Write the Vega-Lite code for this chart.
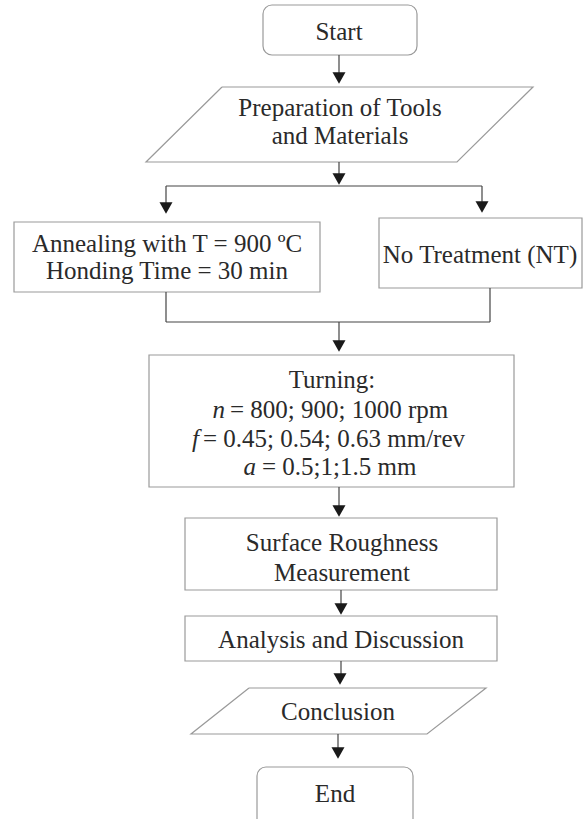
{
  "$schema": "https://vega.github.io/schema/vega-lite/v6.json",
  "width": 587,
  "height": 819,
  "autosize": {"type": "fit", "contains": "padding"},
  "padding": 0,
  "background": "white",
  "config": {"view": {"stroke": null}},
  "datasets": {
    "boxes": [
      {"name": "Annealing", "x": 14, "x2": 320, "y": 222, "y2": 292},
      {"name": "NT", "x": 379, "x2": 582, "y": 218, "y2": 288},
      {"name": "Turning", "x": 149, "x2": 514, "y": 355, "y2": 487},
      {"name": "Surface", "x": 185, "x2": 497, "y": 518, "y2": 590},
      {"name": "Analysis", "x": 185, "x2": 497, "y": 616, "y2": 661}
    ],
    "rounded": [
      {"name": "Start", "x": 263, "x2": 417, "y": 5, "y2": 55},
      {"name": "End", "x": 257, "x2": 413, "y": 767, "y2": 830}
    ],
    "polys": [
      {"shape": "Prep", "i": 0, "x": 222, "y": 87},
      {"shape": "Prep", "i": 1, "x": 533, "y": 87},
      {"shape": "Prep", "i": 2, "x": 457, "y": 162},
      {"shape": "Prep", "i": 3, "x": 146, "y": 162},
      {"shape": "Prep", "i": 4, "x": 222, "y": 87},
      {"shape": "Conclusion", "i": 0, "x": 249, "y": 688},
      {"shape": "Conclusion", "i": 1, "x": 486, "y": 688},
      {"shape": "Conclusion", "i": 2, "x": 427, "y": 734},
      {"shape": "Conclusion", "i": 3, "x": 191, "y": 734},
      {"shape": "Conclusion", "i": 4, "x": 249, "y": 688}
    ],
    "links": [
      {"x": 339, "y": 55, "x2": 339, "y2": 78},
      {"x": 339, "y": 162, "x2": 339, "y2": 180},
      {"x": 166, "y": 186, "x2": 482, "y2": 186},
      {"x": 166, "y": 186, "x2": 166, "y2": 208},
      {"x": 482, "y": 186, "x2": 482, "y2": 206},
      {"x": 166, "y": 292, "x2": 166, "y2": 322},
      {"x": 166, "y": 322, "x2": 490, "y2": 322},
      {"x": 490, "y": 288, "x2": 490, "y2": 322},
      {"x": 339, "y": 322, "x2": 339, "y2": 346},
      {"x": 339, "y": 487, "x2": 339, "y2": 511},
      {"x": 341, "y": 590, "x2": 341, "y2": 609},
      {"x": 341, "y": 661, "x2": 341, "y2": 679},
      {"x": 338, "y": 734, "x2": 338, "y2": 753}
    ],
    "heads": [
      {"x": 339, "y": 78},
      {"x": 339, "y": 179},
      {"x": 166, "y": 208},
      {"x": 482, "y": 207},
      {"x": 339, "y": 346},
      {"x": 339, "y": 511},
      {"x": 341, "y": 609},
      {"x": 340, "y": 679},
      {"x": 338, "y": 753}
    ],
    "labels": [
      {"text": "Start", "x": 339, "y": 32},
      {"text": "Preparation of Tools", "x": 340, "y": 108},
      {"text": "and Materials", "x": 340, "y": 136},
      {"text": "Annealing with T = 900 ºC", "x": 167, "y": 244},
      {"text": "Honding Time = 30 min", "x": 167, "y": 271},
      {"text": "No Treatment (NT)", "x": 480, "y": 255},
      {"text": "Turning:", "x": 332, "y": 380},
      {"text": "Surface Roughness", "x": 342, "y": 543},
      {"text": "Measurement", "x": 342, "y": 573},
      {"text": "Analysis and Discussion", "x": 341, "y": 640},
      {"text": "Conclusion", "x": 338, "y": 712},
      {"text": "End", "x": 335, "y": 794}
    ],
    "vars": [
      {"text": "n", "x": 225, "y": 410},
      {"text": "f", "x": 199, "y": 439},
      {"text": "a", "x": 256, "y": 467}
    ],
    "rests": [
      {"text": "= 800; 900; 1000 rpm", "x": 230, "y": 410},
      {"text": "= 0.45; 0.54; 0.63 mm/rev", "x": 203, "y": 439},
      {"text": "= 0.5;1;1.5 mm", "x": 262, "y": 467}
    ]
  },
  "layer": [
    {
      "data": {"name": "boxes"},
      "mark": {"type": "rect", "fill": "white", "stroke": "#9a9a9a", "strokeWidth": 1.2},
      "encoding": {
        "x": {"field": "x", "type": "quantitative", "scale": {"domain": [0, 587], "nice": false, "zero": false}, "axis": null},
        "x2": {"field": "x2"},
        "y": {"field": "y", "type": "quantitative", "scale": {"domain": [0, 819], "reverse": true, "nice": false, "zero": false}, "axis": null},
        "y2": {"field": "y2"}
      }
    },
    {
      "data": {"name": "rounded"},
      "mark": {"type": "rect", "fill": "white", "stroke": "#9a9a9a", "strokeWidth": 1.2, "cornerRadius": 9, "clip": true},
      "encoding": {
        "x": {"field": "x", "type": "quantitative", "axis": null},
        "x2": {"field": "x2"},
        "y": {"field": "y", "type": "quantitative", "axis": null},
        "y2": {"field": "y2"}
      }
    },
    {
      "data": {"name": "polys"},
      "mark": {"type": "line", "stroke": "#9a9a9a", "strokeWidth": 1.2},
      "encoding": {
        "x": {"field": "x", "type": "quantitative", "axis": null},
        "y": {"field": "y", "type": "quantitative", "axis": null},
        "detail": {"field": "shape"},
        "order": {"field": "i", "type": "quantitative"}
      }
    },
    {
      "data": {"name": "links"},
      "mark": {"type": "rule", "stroke": "#444444", "strokeWidth": 1.2},
      "encoding": {
        "x": {"field": "x", "type": "quantitative", "axis": null},
        "y": {"field": "y", "type": "quantitative", "axis": null},
        "x2": {"field": "x2"},
        "y2": {"field": "y2"}
      }
    },
    {
      "data": {"name": "heads"},
      "mark": {"type": "point", "shape": "triangle-down", "filled": true, "color": "#1a1a1a", "opacity": 1, "size": 170},
      "encoding": {
        "x": {"field": "x", "type": "quantitative", "axis": null},
        "y": {"field": "y", "type": "quantitative", "axis": null}
      }
    },
    {
      "data": {"name": "labels"},
      "mark": {"type": "text", "font": "Liberation Serif", "fontSize": 25, "color": "#2a2a2a", "align": "center", "baseline": "middle"},
      "encoding": {
        "x": {"field": "x", "type": "quantitative", "axis": null},
        "y": {"field": "y", "type": "quantitative", "axis": null},
        "text": {"field": "text"}
      }
    },
    {
      "data": {"name": "vars"},
      "mark": {"type": "text", "font": "Liberation Serif", "fontSize": 25, "fontStyle": "italic", "color": "#2a2a2a", "align": "right", "baseline": "middle"},
      "encoding": {
        "x": {"field": "x", "type": "quantitative", "axis": null},
        "y": {"field": "y", "type": "quantitative", "axis": null},
        "text": {"field": "text"}
      }
    },
    {
      "data": {"name": "rests"},
      "mark": {"type": "text", "font": "Liberation Serif", "fontSize": 25, "color": "#2a2a2a", "align": "left", "baseline": "middle"},
      "encoding": {
        "x": {"field": "x", "type": "quantitative", "axis": null},
        "y": {"field": "y", "type": "quantitative", "axis": null},
        "text": {"field": "text"}
      }
    }
  ]
}
